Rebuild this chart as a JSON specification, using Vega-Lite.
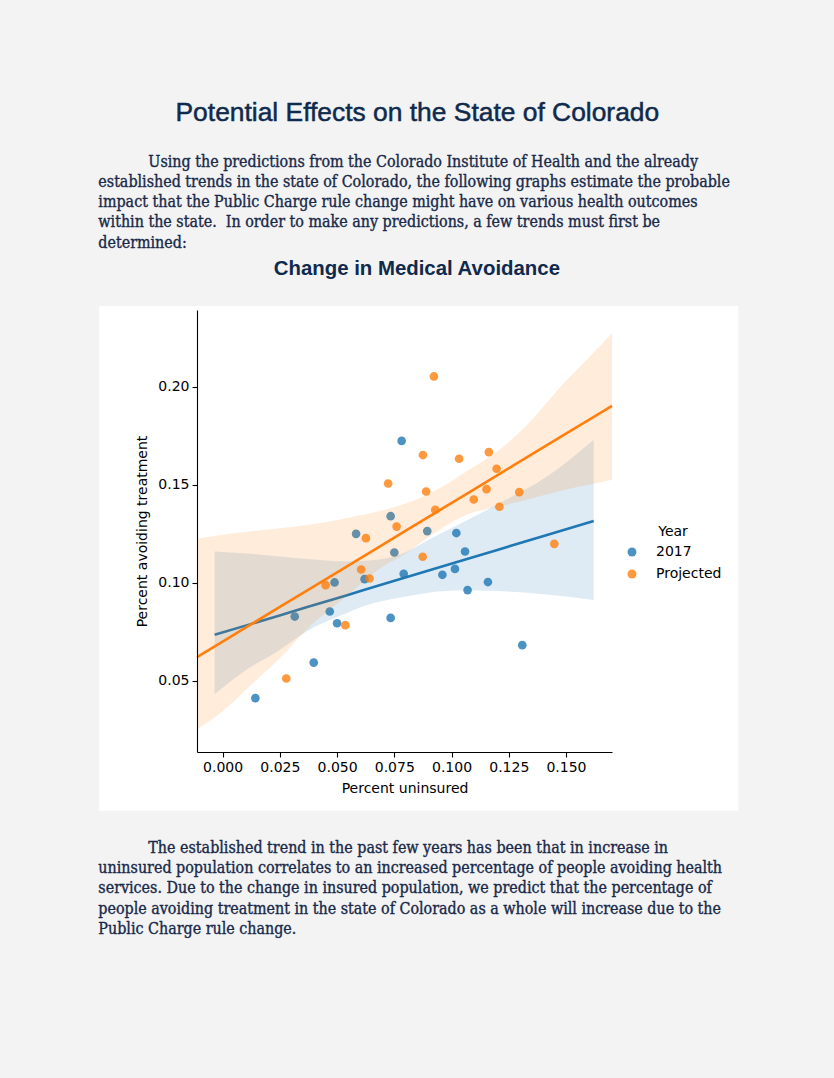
{
  "$schema": "https://vega.github.io/schema/vega-lite/v6.json",
  "width": 415,
  "height": 442,
  "autosize": {"type": "none"},
  "padding": {"left": 197, "top": 310, "right": 222, "bottom": 326},
  "background": "#f3f3f3",
  "config": {
    "view": {"stroke": null},
    "axis": {
      "zindex": 2,
      "grid": false,
      "domainColor": "#000000",
      "domainWidth": 1.1,
      "tickColor": "#000000",
      "tickWidth": 1.1,
      "tickSize": 5,
      "labelFont": "DejaVu Sans",
      "labelFontSize": 14,
      "labelColor": "#000000",
      "labelPadding": 3,
      "titleFont": "DejaVu Sans",
      "titleFontSize": 14,
      "titleFontWeight": "normal",
      "titleColor": "#000000"
    },
    "legend": {
      "labelFont": "DejaVu Sans",
      "labelFontSize": 14,
      "labelColor": "#000000",
      "titleFont": "DejaVu Sans",
      "titleFontSize": 14,
      "titleFontWeight": "normal",
      "titleColor": "#000000"
    }
  },
  "datasets": {
    "pts": [
      {"Year": "2017", "uninsured": 0.0143, "avoiding": 0.0412},
      {"Year": "2017", "uninsured": 0.0315, "avoiding": 0.0828},
      {"Year": "2017", "uninsured": 0.0398, "avoiding": 0.0593},
      {"Year": "2017", "uninsured": 0.0468, "avoiding": 0.0854},
      {"Year": "2017", "uninsured": 0.0500, "avoiding": 0.0794},
      {"Year": "2017", "uninsured": 0.0489, "avoiding": 0.1002},
      {"Year": "2017", "uninsured": 0.0583, "avoiding": 0.1250},
      {"Year": "2017", "uninsured": 0.0620, "avoiding": 0.1019},
      {"Year": "2017", "uninsured": 0.0734, "avoiding": 0.0821},
      {"Year": "2017", "uninsured": 0.0750, "avoiding": 0.1155},
      {"Year": "2017", "uninsured": 0.0791, "avoiding": 0.1046},
      {"Year": "2017", "uninsured": 0.0894, "avoiding": 0.1264},
      {"Year": "2017", "uninsured": 0.0960, "avoiding": 0.1041},
      {"Year": "2017", "uninsured": 0.1021, "avoiding": 0.1254},
      {"Year": "2017", "uninsured": 0.1015, "avoiding": 0.1071},
      {"Year": "2017", "uninsured": 0.1059, "avoiding": 0.1160},
      {"Year": "2017", "uninsured": 0.1070, "avoiding": 0.0963},
      {"Year": "2017", "uninsured": 0.1159, "avoiding": 0.1004},
      {"Year": "2017", "uninsured": 0.1309, "avoiding": 0.0682},
      {"Year": "2017", "uninsured": 0.0782, "avoiding": 0.1724},
      {"Year": "2017", "uninsured": 0.0734, "avoiding": 0.1340},
      {"Year": "Projected", "uninsured": 0.0923, "avoiding": 0.2053},
      {"Year": "Projected", "uninsured": 0.0875, "avoiding": 0.1652},
      {"Year": "Projected", "uninsured": 0.1033, "avoiding": 0.1633},
      {"Year": "Projected", "uninsured": 0.1163, "avoiding": 0.1667},
      {"Year": "Projected", "uninsured": 0.1197, "avoiding": 0.1582},
      {"Year": "Projected", "uninsured": 0.0723, "avoiding": 0.1507},
      {"Year": "Projected", "uninsured": 0.0889, "avoiding": 0.1466},
      {"Year": "Projected", "uninsured": 0.1153, "avoiding": 0.1478},
      {"Year": "Projected", "uninsured": 0.1296, "avoiding": 0.1463},
      {"Year": "Projected", "uninsured": 0.1097, "avoiding": 0.1425},
      {"Year": "Projected", "uninsured": 0.1209, "avoiding": 0.1388},
      {"Year": "Projected", "uninsured": 0.0929, "avoiding": 0.1372},
      {"Year": "Projected", "uninsured": 0.0760, "avoiding": 0.1287},
      {"Year": "Projected", "uninsured": 0.0626, "avoiding": 0.1228},
      {"Year": "Projected", "uninsured": 0.1449, "avoiding": 0.1199},
      {"Year": "Projected", "uninsured": 0.0874, "avoiding": 0.1133},
      {"Year": "Projected", "uninsured": 0.0605, "avoiding": 0.1068},
      {"Year": "Projected", "uninsured": 0.0642, "avoiding": 0.1022},
      {"Year": "Projected", "uninsured": 0.0450, "avoiding": 0.0988},
      {"Year": "Projected", "uninsured": 0.0536, "avoiding": 0.0784},
      {"Year": "Projected", "uninsured": 0.0278, "avoiding": 0.0512}
    ],
    "bands": [
      {"Year": "2017", "uninsured": -0.0035, "lo": 0.0432, "hi": 0.1160, "fit": 0.0735},
      {"Year": "2017", "uninsured": 0.0104, "lo": 0.0556, "hi": 0.1150, "fit": 0.0783},
      {"Year": "2017", "uninsured": 0.0249, "lo": 0.0658, "hi": 0.1135, "fit": 0.0834},
      {"Year": "2017", "uninsured": 0.0366, "lo": 0.0752, "hi": 0.1122, "fit": 0.0875},
      {"Year": "2017", "uninsured": 0.0540, "lo": 0.0845, "hi": 0.1110, "fit": 0.0936},
      {"Year": "2017", "uninsured": 0.0613, "lo": 0.0880, "hi": 0.1112, "fit": 0.0962},
      {"Year": "2017", "uninsured": 0.0776, "lo": 0.0925, "hi": 0.1145, "fit": 0.1019},
      {"Year": "2017", "uninsured": 0.0900, "lo": 0.0950, "hi": 0.1220, "fit": 0.1063},
      {"Year": "2017", "uninsured": 0.1053, "lo": 0.0962, "hi": 0.1310, "fit": 0.1116},
      {"Year": "2017", "uninsured": 0.1200, "lo": 0.0958, "hi": 0.1400, "fit": 0.1168},
      {"Year": "2017", "uninsured": 0.1417, "lo": 0.0940, "hi": 0.1542, "fit": 0.1244},
      {"Year": "2017", "uninsured": 0.1621, "lo": 0.0913, "hi": 0.1730, "fit": 0.1316},
      {"Year": "Projected", "uninsured": -0.0112, "lo": 0.0254, "hi": 0.1225, "fit": 0.0621},
      {"Year": "Projected", "uninsured": 0.0000, "lo": 0.0345, "hi": 0.1245, "fit": 0.0700},
      {"Year": "Projected", "uninsured": 0.0120, "lo": 0.0475, "hi": 0.1262, "fit": 0.0785},
      {"Year": "Projected", "uninsured": 0.0250, "lo": 0.0615, "hi": 0.1278, "fit": 0.0877},
      {"Year": "Projected", "uninsured": 0.0370, "lo": 0.0765, "hi": 0.1295, "fit": 0.0962},
      {"Year": "Projected", "uninsured": 0.0540, "lo": 0.0930, "hi": 0.1330, "fit": 0.1082},
      {"Year": "Projected", "uninsured": 0.0700, "lo": 0.1083, "hi": 0.1370, "fit": 0.1195},
      {"Year": "Projected", "uninsured": 0.0800, "lo": 0.1150, "hi": 0.1405, "fit": 0.1266},
      {"Year": "Projected", "uninsured": 0.0920, "lo": 0.1250, "hi": 0.1465, "fit": 0.1351},
      {"Year": "Projected", "uninsured": 0.1070, "lo": 0.1350, "hi": 0.1572, "fit": 0.1457},
      {"Year": "Projected", "uninsured": 0.1210, "lo": 0.1390, "hi": 0.1680, "fit": 0.1556},
      {"Year": "Projected", "uninsured": 0.1350, "lo": 0.1430, "hi": 0.1830, "fit": 0.1655},
      {"Year": "Projected", "uninsured": 0.1480, "lo": 0.1470, "hi": 0.2005, "fit": 0.1747},
      {"Year": "Projected", "uninsured": 0.1600, "lo": 0.1500, "hi": 0.2150, "fit": 0.1831},
      {"Year": "Projected", "uninsured": 0.1701, "lo": 0.1526, "hi": 0.2274, "fit": 0.1903}
    ]
  },
  "layer": [
    {
      "data": {"values": [{"box": "chart"}]},
      "mark": {"type": "rect", "color": "#ffffff", "opacity": 1, "zindex": 0},
      "encoding": {
        "x": {"datum": -0.0539, "type": "quantitative", "title": "Percent uninsured",
          "scale": {"domain": [-0.0112, 0.1701], "nice": false, "zero": false},
          "axis": {"values": [0, 0.025, 0.05, 0.075, 0.1, 0.125, 0.15], "format": ".3f", "titlePadding": 7, "zindex": 2, "labelFontSize": 14, "titleFontSize": 14}},
        "x2": {"datum": 0.2253},
        "y": {"datum": 0.2413, "type": "quantitative", "title": "Percent avoiding treatment",
          "scale": {"domain": [0.0137, 0.2392], "nice": false, "zero": false},
          "axis": {"values": [0.05, 0.1, 0.15, 0.2], "format": ".2f", "titlePadding": 8, "zindex": 2, "labelFontSize": 14, "titleFontSize": 14}},
        "y2": {"datum": -0.0163}
      }
    },
    {
      "data": {"name": "pts"},
      "transform": [{"filter": "datum.Year === '2017'"}],
      "mark": {"type": "circle", "size": 75, "opacity": 0.8},
      "encoding": {
        "x": {"field": "uninsured", "type": "quantitative", "title": "Percent uninsured",
          "axis": {"values": [0, 0.025, 0.05, 0.075, 0.1, 0.125, 0.15], "format": ".3f", "titlePadding": 7, "zindex": 2, "labelFontSize": 14, "titleFontSize": 14}},
        "y": {"field": "avoiding", "type": "quantitative", "title": "Percent avoiding treatment",
          "axis": {"values": [0.05, 0.1, 0.15, 0.2], "format": ".2f", "titlePadding": 8, "zindex": 2, "labelFontSize": 14, "titleFontSize": 14}},
        "color": {"field": "Year", "type": "nominal",
          "scale": {"domain": ["2017", "Projected"], "range": ["#1f77b4", "#ff7f0e"]},
          "legend": {"orient": "none", "legendX": 428, "legendY": 215, "title": "Year", "titleAnchor": "middle",
            "labelFontSize": 14, "titleFontSize": 14,
            "symbolType": "circle", "symbolSize": 80, "symbolOpacity": 0.8, "labelOffset": 17, "rowPadding": 8, "titlePadding": 6}}
      }
    },
    {
      "data": {"name": "bands"},
      "transform": [{"filter": "datum.Year === '2017'"}],
      "mark": {"type": "area", "color": "#1f77b4", "opacity": 0.15, "interpolate": "monotone"},
      "encoding": {
        "x": {"field": "uninsured", "type": "quantitative", "title": "Percent uninsured"},
        "y": {"field": "lo", "type": "quantitative", "title": "Percent avoiding treatment"},
        "y2": {"field": "hi"}
      }
    },
    {
      "data": {"name": "bands"},
      "transform": [{"filter": "datum.Year === '2017'"}],
      "mark": {"type": "line", "color": "#1f77b4", "strokeWidth": 2.6},
      "encoding": {
        "x": {"field": "uninsured", "type": "quantitative", "title": "Percent uninsured"},
        "y": {"field": "fit", "type": "quantitative", "title": "Percent avoiding treatment"}
      }
    },
    {
      "data": {"name": "pts"},
      "transform": [{"filter": "datum.Year === 'Projected'"}],
      "mark": {"type": "circle", "size": 75, "opacity": 0.8},
      "encoding": {
        "x": {"field": "uninsured", "type": "quantitative", "title": "Percent uninsured"},
        "y": {"field": "avoiding", "type": "quantitative", "title": "Percent avoiding treatment"},
        "color": {"field": "Year", "type": "nominal"}
      }
    },
    {
      "data": {"name": "bands"},
      "transform": [{"filter": "datum.Year === 'Projected'"}],
      "mark": {"type": "area", "color": "#ff7f0e", "opacity": 0.15, "interpolate": "monotone"},
      "encoding": {
        "x": {"field": "uninsured", "type": "quantitative", "title": "Percent uninsured"},
        "y": {"field": "lo", "type": "quantitative", "title": "Percent avoiding treatment"},
        "y2": {"field": "hi"}
      }
    },
    {
      "data": {"name": "bands"},
      "transform": [{"filter": "datum.Year === 'Projected'"}],
      "mark": {"type": "line", "color": "#ff7f0e", "strokeWidth": 2.6},
      "encoding": {
        "x": {"field": "uninsured", "type": "quantitative", "title": "Percent uninsured"},
        "y": {"field": "fit", "type": "quantitative", "title": "Percent avoiding treatment"}
      }
    },
    {
      "data": {"values": [{"t": "Potential Effects on the State of Colorado"}]},
      "mark": {"type": "text", "font": "Liberation Sans", "fontSize": 26.4, "color": "#0f2a4c", "stroke": "#0f2a4c", "strokeWidth": 0.5, "align": "center", "baseline": "alphabetic"},
      "encoding": {
        "x": {"datum": 0.08506, "type": "quantitative"},
        "y": {"datum": 0.33587, "type": "quantitative"},
        "text": {"field": "t"}
      }
    },
    {
      "data": {"values": [{"t": "Using the predictions from the Colorado Institute of Health and the already"}]},
      "mark": {"type": "text", "font": "DejaVu Serif Condensed", "fontSize": 15.9, "color": "#18294a", "stroke": "#18294a", "strokeWidth": 0.35, "align": "left", "baseline": "alphabetic"},
      "encoding": {
        "x": {"datum": -0.03246, "type": "quantitative"},
        "y": {"datum": 0.3124, "type": "quantitative"},
        "text": {"field": "t"}
      }
    },
    {
      "data": {"values": [{"t": ["established trends in the state of Colorado, the following graphs estimate the probable", "impact that the Public Charge rule change might have on various health outcomes", "within the state.\u00a0 In order to make any predictions, a few trends must first be", "determined:"]}]},
      "mark": {"type": "text", "font": "DejaVu Serif Condensed", "fontSize": 15.9, "lineHeight": 20.2, "color": "#18294a", "stroke": "#18294a", "strokeWidth": 0.35, "align": "left", "baseline": "alphabetic"},
      "encoding": {
        "x": {"datum": -0.0543, "type": "quantitative"},
        "y": {"datum": 0.3019, "type": "quantitative"},
        "text": {"field": "t"}
      }
    },
    {
      "data": {"values": [{"t": "Change in Medical Avoidance"}]},
      "mark": {"type": "text", "font": "Liberation Sans", "fontSize": 20.4, "fontWeight": "bold", "color": "#0f2a4c", "align": "center", "baseline": "alphabetic"},
      "encoding": {
        "x": {"datum": 0.08484, "type": "quantitative"},
        "y": {"datum": 0.25714, "type": "quantitative"},
        "text": {"field": "t"}
      }
    },
    {
      "data": {"values": [{"t": "The established trend in the past few years has been that in increase in"}]},
      "mark": {"type": "text", "font": "DejaVu Serif Condensed", "fontSize": 15.9, "color": "#18294a", "stroke": "#18294a", "strokeWidth": 0.35, "align": "left", "baseline": "alphabetic"},
      "encoding": {
        "x": {"datum": -0.03246, "type": "quantitative"},
        "y": {"datum": -0.0376, "type": "quantitative"},
        "text": {"field": "t"}
      }
    },
    {
      "data": {"values": [{"t": ["uninsured population correlates to an increased percentage of people avoiding health", "services. Due to the change in insured population, we predict that the percentage of", "people avoiding treatment in the state of Colorado as a whole will increase due to the", "Public Charge rule change."]}]},
      "mark": {"type": "text", "font": "DejaVu Serif Condensed", "fontSize": 15.9, "lineHeight": 20.2, "color": "#18294a", "stroke": "#18294a", "strokeWidth": 0.35, "align": "left", "baseline": "alphabetic"},
      "encoding": {
        "x": {"datum": -0.0543, "type": "quantitative"},
        "y": {"datum": -0.04811, "type": "quantitative"},
        "text": {"field": "t"}
      }
    }
  ]
}
